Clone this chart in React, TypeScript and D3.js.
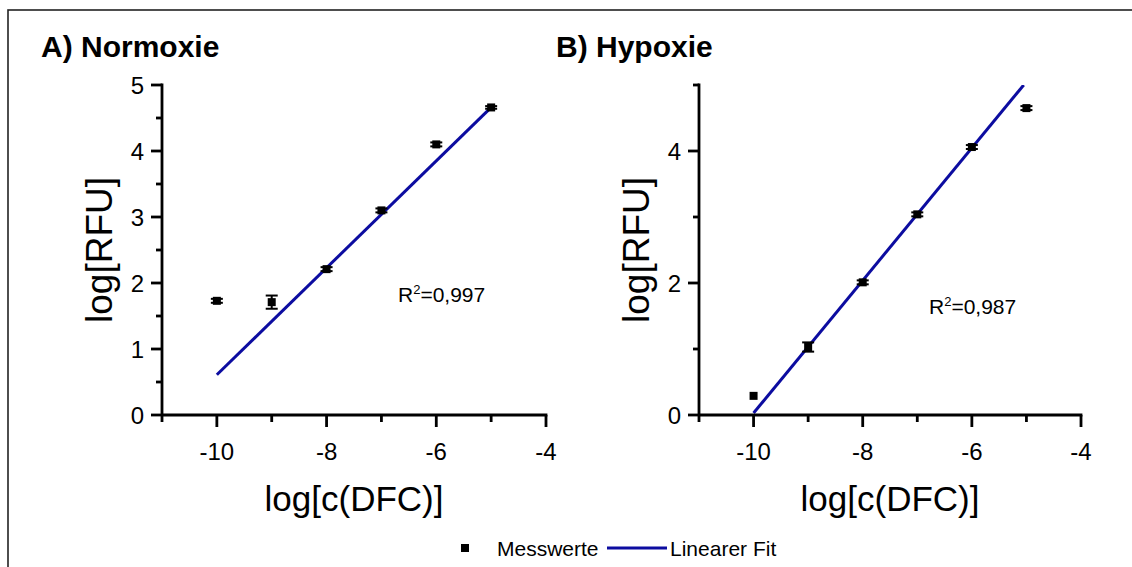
import React from "react";
import * as d3 from "d3";

// ---- data ----
const concentrations = [-10, -9, -8, -7, -6, -5];
const normoxieValues = [1.73, 1.71, 2.21, 3.1, 4.1, 4.66];
const normoxieErrors = [0.03, 0.1, 0.03, 0.03, 0.03, 0.02];
const hypoxieValues = [0.29, 1.03, 2.01, 3.04, 4.06, 4.65];
const hypoxieErrors = [0, 0.07, 0.03, 0.03, 0.03, 0.03];
const normoxieFit: [number, number][] = [[-10, 0.61], [-5, 4.66]];
const hypoxieFit: [number, number][] = [[-10, 0.03], [-5.05, 5.0]];
const xMajorTicks = [-10, -8, -6, -4];
const xMinorTicks = [-11, -9, -7, -5];
const yMajorA = [0, 1, 2, 3, 4, 5];
const yMinorA = [0.5, 1.5, 2.5, 3.5, 4.5];
const yMajorB = [0, 2, 4];
const yMinorB = [1, 3, 5];

const FONT = "'Liberation Sans', Arial, sans-serif";
const BLUE = "#0c0ca0";

type PanelProps = {
  title: string;
  left: number;
  right: number;
  titleX: number;
  values: number[];
  errors: number[];
  fit: [number, number][];
  yMajor: number[];
  yMinor: number[];
  r2: string;
  r2x: number;
  r2y: number;
  id: string;
};

function Panel(p: PanelProps) {
  const top = 85;
  const bottom = 415;
  const x = d3.scaleLinear().domain([-11, -4]).range([p.left, p.right]);
  const y = d3.scaleLinear().domain([0, 5]).range([bottom, top]);
  const line = d3
    .line<[number, number]>()
    .x((d) => x(d[0]))
    .y((d) => y(d[1]));
  return (
    <g>
      <text x={p.titleX} y={57} fontFamily={FONT} fontWeight="bold" fontSize={30} fill="#000">
        {p.title}
      </text>
      <defs>
        <clipPath id={p.id}>
          <rect x={p.left} y={top} width={p.right - p.left} height={bottom - top} />
        </clipPath>
      </defs>
      {/* fit line */}
      <path d={line(p.fit) || ""} stroke={BLUE} strokeWidth={3} fill="none" clipPath={`url(#${p.id})`} />
      {/* error bars and points */}
      {concentrations.map((c, i) => {
        const cx = x(c);
        const cy = y(p.values[i]);
        const e = p.errors[i];
        return (
          <g key={i}>
            {e > 0 && (
              <g stroke="#000" strokeWidth={2}>
                <line x1={cx} x2={cx} y1={y(p.values[i] + e)} y2={y(p.values[i] - e)} />
                <line x1={cx - 6} x2={cx + 6} y1={y(p.values[i] + e)} y2={y(p.values[i] + e)} />
                <line x1={cx - 6} x2={cx + 6} y1={y(p.values[i] - e)} y2={y(p.values[i] - e)} />
              </g>
            )}
            <rect x={cx - 4} y={cy - 4} width={8} height={8} fill="#000" />
          </g>
        );
      })}
      {/* axes */}
      <line x1={p.left} x2={p.right + 1.4} y1={bottom} y2={bottom} stroke="#000" strokeWidth={2.8} />
      <line x1={p.left} x2={p.left} y1={top - 1.4} y2={bottom} stroke="#000" strokeWidth={2.8} />
      {xMajorTicks.map((t) => (
        <g key={"xM" + t}>
          <line x1={x(t)} x2={x(t)} y1={bottom} y2={bottom + 12} stroke="#000" strokeWidth={2.8} />
          <text x={x(t)} y={460} textAnchor="middle" fontFamily={FONT} fontSize={24} fill="#000">
            {t}
          </text>
        </g>
      ))}
      {xMinorTicks.map((t) => (
        <line key={"xm" + t} x1={x(t)} x2={x(t)} y1={bottom} y2={bottom + 7} stroke="#000" strokeWidth={2.8} />
      ))}
      {p.yMajor.map((t) => (
        <g key={"yM" + t}>
          <line x1={p.left - 11} x2={p.left} y1={y(t)} y2={y(t)} stroke="#000" strokeWidth={2.8} />
          <text x={p.left - 18} y={y(t) + 8.5} textAnchor="end" fontFamily={FONT} fontSize={24} fill="#000">
            {t}
          </text>
        </g>
      ))}
      {p.yMinor.map((t) => (
        <line key={"ym" + t} x1={p.left - 6} x2={p.left} y1={y(t)} y2={y(t)} stroke="#000" strokeWidth={2.8} />
      ))}
      {/* axis titles */}
      <text
        x={(p.left + p.right) / 2}
        y={511}
        textAnchor="middle"
        fontFamily={FONT}
        fontSize={35}
        fill="#000"
      >
        log[c(DFC)]
      </text>
      <text
        transform={`translate(${p.left - 50},250) rotate(-90)`}
        textAnchor="middle"
        fontFamily={FONT}
        fontSize={37}
        fill="#000"
      >
        log[RFU]
      </text>
      <text x={p.r2x} y={p.r2y} fontFamily={FONT} fontSize={21} fill="#000">
        R<tspan dy={-8} fontSize={13}>2</tspan>
        <tspan dy={8}>=</tspan>
        {p.r2}
      </text>
    </g>
  );
}

export default function App() {
  return (
    <div style={{ position: "absolute", left: 0, top: 0 }}>
      <svg width={1132} height={567} style={{ display: "block", background: "#fff" }}>
        <rect x={8} y={10} width={1140} height={580} fill="#fff" stroke="#222" strokeWidth={1.6} />
        <Panel
          id="clipA"
          title="A) Normoxie"
          titleX={41}
          left={162}
          right={546}
          values={normoxieValues}
          errors={normoxieErrors}
          fit={normoxieFit}
          yMajor={yMajorA}
          yMinor={yMinorA}
          r2="0,997"
          r2x={398}
          r2y={302}
        />
        <Panel
          id="clipB"
          title="B) Hypoxie"
          titleX={556}
          left={699}
          right={1081}
          values={hypoxieValues}
          errors={hypoxieErrors}
          fit={hypoxieFit}
          yMajor={yMajorB}
          yMinor={yMinorB}
          r2="0,987"
          r2x={929}
          r2y={314}
        />
        {/* legend */}
        <rect x={461} y={544} width={8} height={8} fill="#000" />
        <text x={497} y={556} fontFamily={FONT} fontSize={21} fill="#000">
          Messwerte
        </text>
        <line x1={607} x2={667} y1={548} y2={548} stroke={BLUE} strokeWidth={3} />
        <text x={670} y={556} fontFamily={FONT} fontSize={21} fill="#000">
          Linearer Fit
        </text>
      </svg>
    </div>
  );
}
